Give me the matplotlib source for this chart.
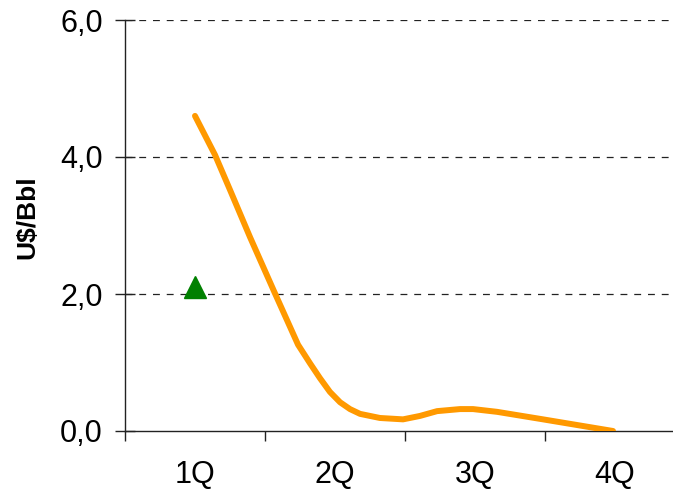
import matplotlib
matplotlib.use('Agg')
import matplotlib.pyplot as plt

# quarters on x (0 = 1Q ... 3 = 4Q), values in U$/Bbl
quarters = ['1Q', '2Q', '3Q', '4Q']
curve_x = [0.000, 0.143, 0.250, 0.393, 0.571, 0.736, 0.821, 0.893, 0.964, 1.036,
           1.107, 1.179, 1.321, 1.486, 1.607, 1.729, 1.893, 1.986, 2.157, 2.486, 2.986]
curve_y = [4.60, 4.03, 3.52, 2.83, 2.01, 1.26, 0.99, 0.77, 0.57, 0.42,
           0.32, 0.25, 0.19, 0.17, 0.22, 0.29, 0.32, 0.32, 0.28, 0.17, 0.00]
point_x = [0]
point_y = [2.1]
y_ticks = [0, 2, 4, 6]
y_labels = ['0,0', '2,0', '4,0', '6,0']

plt.rcParams['font.family'] = ['Liberation Sans', 'DejaVu Sans']

fig = plt.figure(figsize=(6.73, 4.95), dpi=100)
ax = fig.add_axes([125/673, 64/495, 548/673, 411/495])

for yv in y_ticks[1:]:
    ax.axhline(yv, color='#222222', lw=0.9, linestyle=(0, (5.5, 5.5)), zorder=1)

ax.plot(curve_x, curve_y, color='#FF9900', lw=4.3, solid_capstyle='round',
        solid_joinstyle='round', zorder=3)
ax.plot(point_x, point_y, marker='^', markersize=16, color='#008000',
        linestyle='none', zorder=4)

ax.set_xlim(-0.5, (673 - 195) / 140)
ax.set_ylim(0, 6)

for s in ['top', 'right']:
    ax.spines[s].set_visible(False)
for s in ['left', 'bottom']:
    ax.spines[s].set_linewidth(1.0)
    ax.spines[s].set_color('#222222')
ax.spines['left'].set_zorder(2)

ax.set_yticks(y_ticks)
ax.set_yticklabels(y_labels)
ax.tick_params(axis='y', direction='inout', length=14, width=1.0, pad=9,
               labelsize=22, color='#222222')

ax.set_xticks([-0.5, 0.5, 1.5, 2.5])
ax.set_xticklabels([])
ax.set_xticks(range(len(quarters)), minor=True)
ax.set_xticklabels(quarters, minor=True)
ax.tick_params(axis='x', which='major', direction='out', length=7.5, width=1.0,
               color='#222222')
ax.tick_params(axis='x', which='minor', length=0, pad=21, labelsize=22)

fig.text(27/673, 1 - 217/495, 'U$/Bbl', rotation=90, ha='center', va='center',
         fontsize=19, fontweight='bold')

fig.savefig('out.png', dpi=100)
